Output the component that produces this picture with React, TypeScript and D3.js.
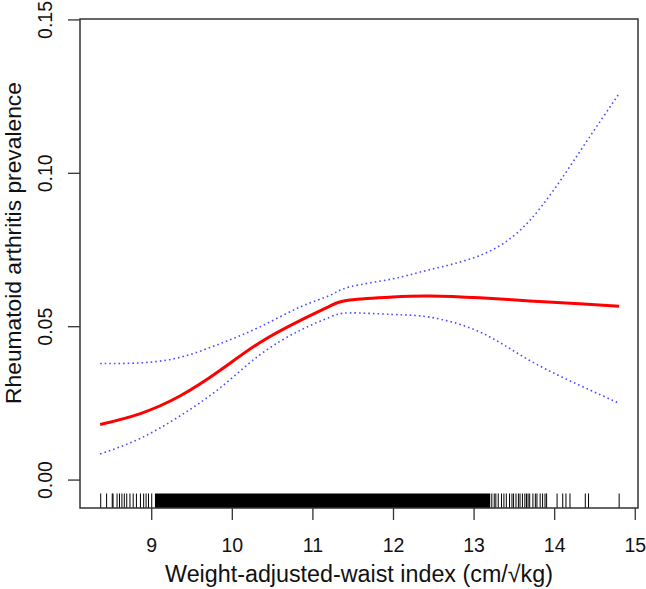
import React from "react";
import * as d3 from "d3";

const xVals = [8.36, 8.85, 9.35, 9.85, 10.34, 10.84, 11.21, 11.46, 11.99, 12.45, 13.07, 13.69, 14.31, 14.8];
const fitVals = [0.0181, 0.0216, 0.0274, 0.0358, 0.0448, 0.052, 0.0567, 0.0587, 0.0597, 0.06, 0.0594, 0.0584, 0.0575, 0.0567];
const upperVals = [0.038, 0.0382, 0.04, 0.0445, 0.0499, 0.0564, 0.0602, 0.063, 0.0656, 0.0686, 0.0732, 0.0846, 0.107, 0.126];
const lowerVals = [0.0085, 0.0135, 0.0209, 0.0301, 0.0408, 0.0488, 0.0531, 0.0545, 0.054, 0.0531, 0.0483, 0.039, 0.0309, 0.025];

const xTicks = [9, 10, 11, 12, 13, 14, 15];
const yTicks = [0.0, 0.05, 0.1, 0.15];
const yTickLabels = ["0.00", "0.05", "0.10", "0.15"];

const rugLow = [8.367, 8.44, 8.51, 8.52, 8.57, 8.6, 8.63, 8.66, 8.69, 8.73, 8.77, 8.81, 8.86, 8.9, 8.93, 8.96, 9.0];
const rugBand = [9.04, 13.2];
const rugHigh = [13.22, 13.25, 13.27, 13.3, 13.34, 13.37, 13.4, 13.44, 13.47, 13.49, 13.52, 13.55, 13.57, 13.6, 13.63, 13.65, 13.67, 13.69, 13.73, 13.76, 13.78, 13.82, 13.85, 13.88, 13.9, 14.03, 14.1, 14.14, 14.19, 14.38, 14.42, 14.8];

const xLabel = "Weight-adjusted-waist index (cm/√kg)";
const yLabel = "Rheumatoid arthritis prevalence";

export default function App() {
  const W = 646, H = 589;
  const left = 80, right = 638, top = 19, bottom = 508;
  const x = d3.scaleLinear().domain([8.11, 15.034]).range([left, right]);
  const y = d3.scaleLinear().domain([-0.0091, 0.1503]).range([bottom, top]);
  const mk = (vals: number[]) =>
    d3.line<number>().x((_, i) => x(xVals[i])).y((v) => y(v)).curve(d3.curveNatural)(vals) || "";
  const font = "'Liberation Sans', Arial, Helvetica, sans-serif";
  const rugTop = bottom - 14.5;
  return (
    <svg width={W} height={H} style={{ position: "absolute", left: 0, top: 0, background: "#fff" }} fontFamily={font}>
      <rect x={0} y={0} width={W} height={H} fill="#fff" />
      {/* rug */}
      <rect x={x(rugBand[0])} y={rugTop} width={x(rugBand[1]) - x(rugBand[0])} height={bottom - rugTop} fill="#000" />
      {[...rugLow, ...rugHigh].map((v, i) => (
        <line key={"r" + i} x1={x(v)} x2={x(v)} y1={rugTop} y2={bottom} stroke="#000" strokeWidth={1} />
      ))}
      {/* curves */}
      <path d={mk(upperVals)} fill="none" stroke="#4d4dff" strokeWidth={1.6} strokeDasharray="1.6,3" />
      <path d={mk(lowerVals)} fill="none" stroke="#4d4dff" strokeWidth={1.6} strokeDasharray="1.6,3" />
      <path d={mk(fitVals)} fill="none" stroke="#ff0000" strokeWidth={3} />
      {/* box */}
      <rect x={left} y={top} width={right - left} height={bottom - top} fill="none" stroke="#333" strokeWidth={1.5} />
      {/* x axis */}
      {xTicks.map((t) => (
        <g key={"x" + t}>
          <line x1={x(t)} x2={x(t)} y1={bottom} y2={bottom + 12} stroke="#333" strokeWidth={1.3} />
          <text x={x(t)} y={552} textAnchor="middle" fontSize={19.5} fill="#111">{t}</text>
        </g>
      ))}
      {/* y axis */}
      {yTicks.map((t, i) => (
        <g key={"y" + t}>
          <line x1={left - 12} x2={left} y1={y(t)} y2={y(t)} stroke="#333" strokeWidth={1.3} />
          <text transform={`translate(52,${y(t)}) rotate(-90)`} textAnchor="middle" fontSize={19.5} fill="#111">{yTickLabels[i]}</text>
        </g>
      ))}
      <text x={(left + right) / 2} y={582} textAnchor="middle" fontSize={23.3} fill="#111">{xLabel}</text>
      <text transform={`translate(21,243) rotate(-90)`} textAnchor="middle" fontSize={22.8} fill="#111">{yLabel}</text>
    </svg>
  );
}
